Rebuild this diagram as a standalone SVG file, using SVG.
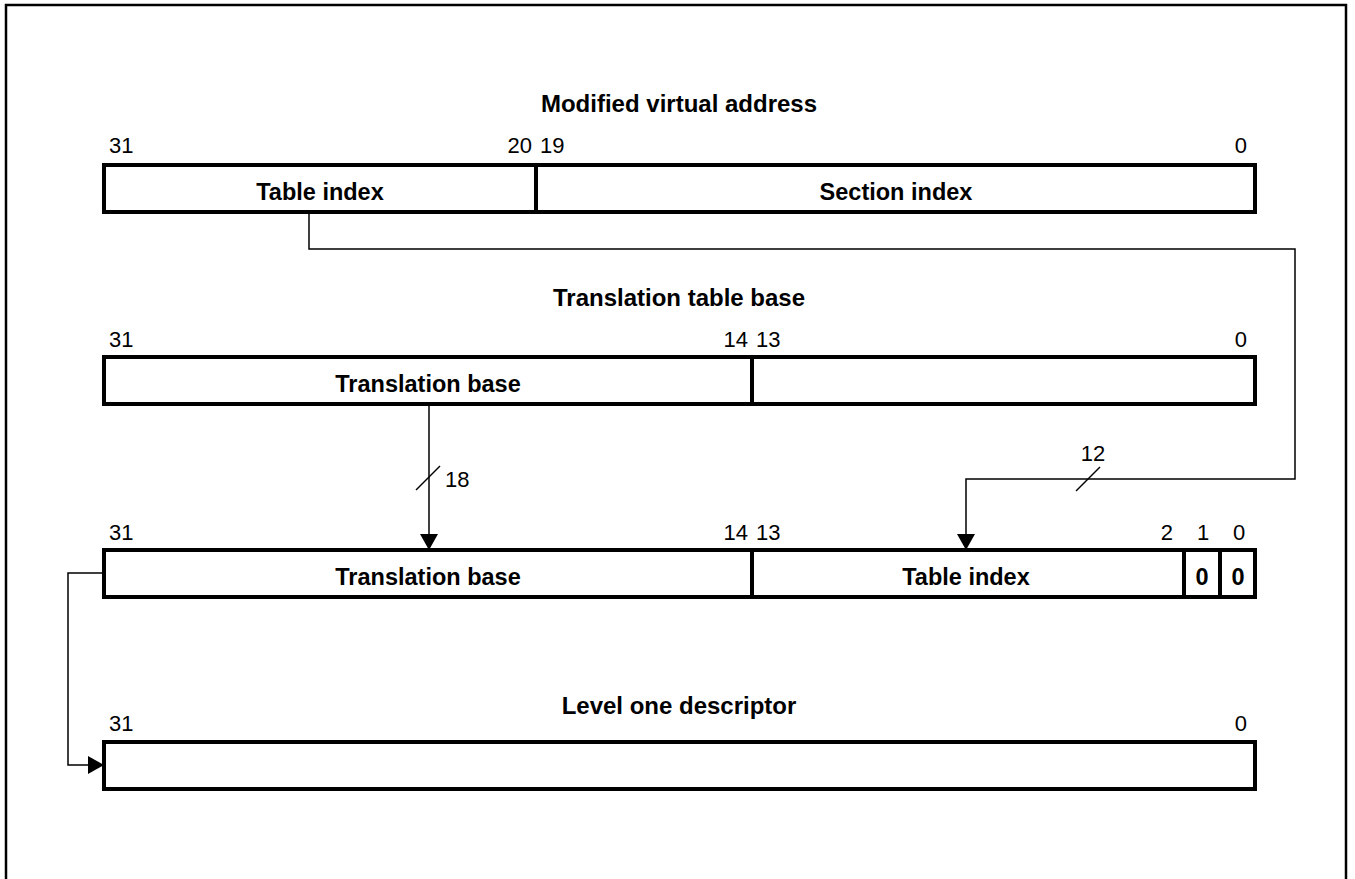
<svg xmlns="http://www.w3.org/2000/svg" width="1355" height="879" viewBox="0 0 1355 879">
<style>
.box{fill:none;stroke:#000;stroke-width:4;stroke-linejoin:miter}
.div{stroke:#000;stroke-width:4}
.ln{fill:none;stroke:#000;stroke-width:1.5}
.t{font-family:"Liberation Sans",Arial,sans-serif;font-size:22px;fill:#000}
.b{font-family:"Liberation Sans",Arial,sans-serif;font-size:23.5px;font-weight:bold;fill:#000}
.h{font-size:24px}
.m{text-anchor:middle}
.e{text-anchor:end}
</style>
<defs>
<marker id="ah" markerWidth="17" markerHeight="18" refX="16" refY="9" orient="auto" markerUnits="userSpaceOnUse">
<path d="M0,0 L16,9 L0,18 Z" fill="#000"/>
</marker>
</defs>
<rect width="1355" height="879" fill="#fff"/>
<path d="M6,879 V5 H1346 V879" fill="none" stroke="#000" stroke-width="2.5"/>

<g id="mva">
<text class="b h m" x="679" y="112">Modified virtual address</text>
<text class="t" x="109" y="153">31</text>
<text class="t e" x="532" y="153">20</text>
<text class="t" x="540" y="153">19</text>
<text class="t e" x="1247" y="153">0</text>
<rect class="box" x="104" y="165" width="1151" height="47"/>
<line class="div" x1="536" y1="165" x2="536" y2="212"/>
<text class="b m" x="320" y="200">Table index</text>
<text class="b m" x="896" y="200">Section index</text>
</g>

<g id="ttb">
<text class="b h m" x="679" y="306">Translation table base</text>
<text class="t" x="109" y="347">31</text>
<text class="t e" x="748" y="347">14</text>
<text class="t" x="756" y="347">13</text>
<text class="t e" x="1247" y="347">0</text>
<rect class="box" x="104" y="357" width="1151" height="47"/>
<line class="div" x1="752" y1="357" x2="752" y2="404"/>
<text class="b m" x="428" y="392">Translation base</text>
</g>

<g id="addr">
<text class="t" x="109" y="540">31</text>
<text class="t e" x="748" y="540">14</text>
<text class="t" x="756" y="540">13</text>
<text class="t e" x="1173" y="540">2</text>
<text class="t m" x="1203" y="540">1</text>
<text class="t m" x="1239" y="540">0</text>
<rect class="box" x="104" y="550" width="1151" height="47"/>
<line class="div" x1="752" y1="550" x2="752" y2="597"/>
<line class="div" x1="1184" y1="550" x2="1184" y2="597"/>
<line class="div" x1="1220" y1="550" x2="1220" y2="597"/>
<text class="b m" x="428" y="585">Translation base</text>
<text class="b m" x="966" y="585">Table index</text>
<text class="b m" x="1202" y="585">0</text>
<text class="b m" x="1238" y="585">0</text>
</g>

<g id="l1d">
<text class="b h m" x="679" y="714">Level one descriptor</text>
<text class="t" x="109" y="731">31</text>
<text class="t e" x="1247" y="731">0</text>
<rect class="box" x="104" y="742" width="1151" height="47"/>
</g>

<g id="connectors">
<path class="ln" d="M309,212 V249 H1295 V479 H966 V550" marker-end="url(#ah)"/>
<line class="ln" x1="1076" y1="491" x2="1100" y2="467"/>
<text class="t m" x="1093" y="461">12</text>
<path class="ln" d="M429,404 V550" marker-end="url(#ah)"/>
<line class="ln" x1="416" y1="490" x2="440" y2="466"/>
<text class="t" x="445" y="487">18</text>
<path class="ln" d="M104,573 H68 V765 H104" marker-end="url(#ah)"/>
</g>
</svg>
